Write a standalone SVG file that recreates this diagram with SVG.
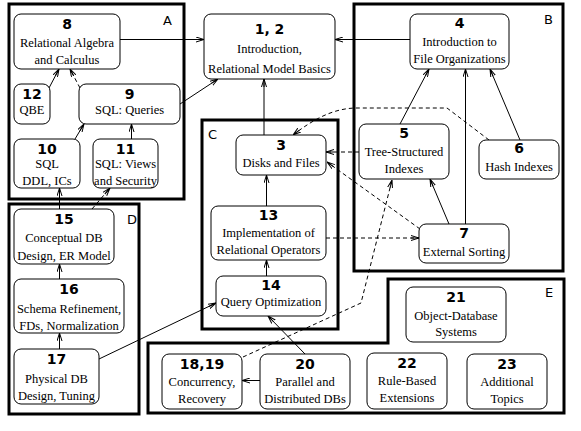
<svg xmlns="http://www.w3.org/2000/svg" width="581" height="431" viewBox="0 0 581 431">
<style>
.cl{fill:none;stroke:#000;stroke-width:3}
.cll{font-family:"DejaVu Sans",sans-serif;font-size:13px;fill:#000}
.nd rect{fill:#fff;stroke:#000;stroke-width:1}
.num{font-family:"DejaVu Sans",sans-serif;font-weight:bold;font-size:14px;text-anchor:middle;fill:#000}
.tx{font-family:"Liberation Serif","Times New Roman",serif;font-size:12.5px;text-anchor:middle;fill:#000}
.c path{fill:none;stroke:#000;stroke-width:1;marker-end:url(#ah)}
.c path.d{stroke-dasharray:4,3}
</style>
<defs>
<marker id="ah" viewBox="0 0 8 6" refX="8" refY="3" markerWidth="8" markerHeight="6" markerUnits="userSpaceOnUse" orient="auto">
<path d="M0,0.5 L8,3 L0,5.5 M0,3 L8,3" fill="none" stroke="#000" stroke-width="1"/>
</marker>
</defs>
<rect width="581" height="431" fill="#fff"/>
<g id="clusters">
<g id="clusterA"><rect class="cl" x="9" y="4" width="175" height="195"/><text class="cll" x="163" y="25">A</text></g>
<g id="clusterB"><rect class="cl" x="354" y="4" width="209" height="267"/><text class="cll" x="544" y="24">B</text></g>
<g id="clusterC"><rect class="cl" x="202" y="120" width="136" height="209"/><text class="cll" x="208" y="139">C</text></g>
<g id="clusterD"><rect class="cl" x="9" y="204" width="130" height="210"/><text class="cll" x="127" y="224">D</text></g>
<g id="clusterE"><path class="cl" d="M388,279 L564,279 L564,413 L148,413 L148,343 L388,343 Z"/><text class="cll" x="545" y="297">E</text></g>
</g>
<g id="connectors" class="c">
<path d="M120,39.5 L204,39.5"/>
<path d="M410,39.5 L335,39.5"/>
<path d="M180,104 L218,79"/>
<path d="M264,135 L264,79"/>
<path d="M49,88 L59,69"/>
<path class="d" d="M80,88 L70,69"/>
<path d="M75,139 L84,124"/>
<path d="M131.5,139 L131.5,124"/>
<path d="M59.5,209 L59.5,188"/>
<path class="d" d="M92,209 L110,188"/>
<path d="M59.5,279 L59.5,264"/>
<path d="M59.5,349 L59.5,333"/>
<path d="M99,359 L216,303"/>
<path d="M400,124 L429,69"/>
<path d="M520,140 L490,69"/>
<path d="M465.5,224 L465.5,69"/>
<path d="M449,224 L430,179"/>
<path class="d" d="M359,152 L326,152"/>
<path class="d" d="M489,140 L447,108 L357,108 C335,108 315,118 293,135"/>
<path class="d" d="M420,229 L327,162"/>
<path class="d" d="M326,238 L419,238"/>
<path class="d" d="M243,357 L361,303 L392,180"/>
<path d="M305,354 L268,316"/>
<path d="M260,380.5 L242,380.5"/>
<path d="M266.5,206 L266.5,175"/>
<path d="M266.5,276 L266.5,260"/>
</g>
<g id="n12" class="nd"><rect x="204" y="14" width="131" height="65" rx="7"/><text class="num" x="269.5" y="34">1, 2</text><text class="tx" x="269.5" y="53">Introduction,</text><text class="tx" x="269.5" y="73">Relational Model Basics</text></g>
<g id="n8" class="nd"><rect x="14" y="14" width="106" height="55" rx="7"/><text class="num" x="67" y="29">8</text><text class="tx" x="67" y="47">Relational Algebra</text><text class="tx" x="67" y="64">and Calculus</text></g>
<g id="n12q" class="nd"><rect x="14" y="84" width="36" height="40" rx="7"/><text class="num" x="32" y="99">12</text><text class="tx" x="32" y="114">QBE</text></g>
<g id="n9" class="nd"><rect x="79" y="84" width="101" height="40" rx="7"/><text class="num" x="129.5" y="99">9</text><text class="tx" x="129.5" y="114">SQL: Queries</text></g>
<g id="n10" class="nd"><rect x="14" y="139" width="66" height="49" rx="7"/><text class="num" x="47" y="154">10</text><text class="tx" x="47" y="168">SQL</text><text class="tx" x="47" y="185">DDL, ICs</text></g>
<g id="n11" class="nd"><rect x="93" y="139" width="65" height="49" rx="7"/><text class="num" x="125.5" y="154">11</text><text class="tx" x="125.5" y="168">SQL: Views</text><text class="tx" x="125.5" y="185">and Security</text></g>
<g id="n4" class="nd"><rect x="410" y="14" width="99" height="55" rx="7"/><text class="num" x="459.5" y="28">4</text><text class="tx" x="459.5" y="46">Introduction to</text><text class="tx" x="459.5" y="63">File Organizations</text></g>
<g id="n5" class="nd"><rect x="359" y="124" width="90" height="55" rx="7"/><text class="num" x="404" y="138">5</text><text class="tx" x="404" y="156">Tree-Structured</text><text class="tx" x="404" y="173">Indexes</text></g>
<g id="n6" class="nd"><rect x="479" y="140" width="80" height="39" rx="7"/><text class="num" x="519" y="153">6</text><text class="tx" x="519" y="171">Hash Indexes</text></g>
<g id="n7" class="nd"><rect x="419" y="224" width="90" height="39" rx="7"/><text class="num" x="464" y="238">7</text><text class="tx" x="464" y="256">External Sorting</text></g>
<g id="n3" class="nd"><rect x="236" y="135" width="90" height="40" rx="7"/><text class="num" x="281" y="150">3</text><text class="tx" x="281" y="167">Disks and Files</text></g>
<g id="n13" class="nd"><rect x="211" y="206" width="115" height="54" rx="7"/><text class="num" x="268.5" y="220">13</text><text class="tx" x="268.5" y="237">Implementation of</text><text class="tx" x="268.5" y="254">Relational Operators</text></g>
<g id="n14" class="nd"><rect x="216" y="276" width="110" height="40" rx="7"/><text class="num" x="271" y="290">14</text><text class="tx" x="271" y="306">Query Optimization</text></g>
<g id="n15" class="nd"><rect x="14" y="209" width="100" height="55" rx="7"/><text class="num" x="64" y="224">15</text><text class="tx" x="64" y="242">Conceptual DB</text><text class="tx" x="64" y="260">Design, ER Model</text></g>
<g id="n16" class="nd"><rect x="14" y="279" width="110" height="54" rx="7"/><text class="num" x="69" y="294">16</text><text class="tx" x="69" y="313">Schema Refinement,</text><text class="tx" x="69" y="330">FDs, Normalization</text></g>
<g id="n17" class="nd"><rect x="14" y="349" width="85" height="55" rx="7"/><text class="num" x="56.5" y="364">17</text><text class="tx" x="56.5" y="383">Physical DB</text><text class="tx" x="56.5" y="400">Design, Tuning</text></g>
<g id="n21" class="nd"><rect x="406" y="287" width="100" height="55" rx="7"/><text class="num" x="456" y="302">21</text><text class="tx" x="456" y="320">Object-Database</text><text class="tx" x="456" y="336">Systems</text></g>
<g id="n1819" class="nd"><rect x="162" y="354" width="80" height="55" rx="7"/><text class="num" x="202" y="369">18,19</text><text class="tx" x="202" y="386">Concurrency,</text><text class="tx" x="202" y="403">Recovery</text></g>
<g id="n20" class="nd"><rect x="260" y="354" width="90" height="55" rx="7"/><text class="num" x="305" y="369">20</text><text class="tx" x="305" y="386">Parallel and</text><text class="tx" x="305" y="403">Distributed DBs</text></g>
<g id="n22" class="nd"><rect x="367" y="353" width="80" height="56" rx="7"/><text class="num" x="407" y="368">22</text><text class="tx" x="407" y="385">Rule-Based</text><text class="tx" x="407" y="402">Extensions</text></g>
<g id="n23" class="nd"><rect x="467" y="354" width="80" height="55" rx="7"/><text class="num" x="507" y="369">23</text><text class="tx" x="507" y="386">Additional</text><text class="tx" x="507" y="403">Topics</text></g>
</svg>
